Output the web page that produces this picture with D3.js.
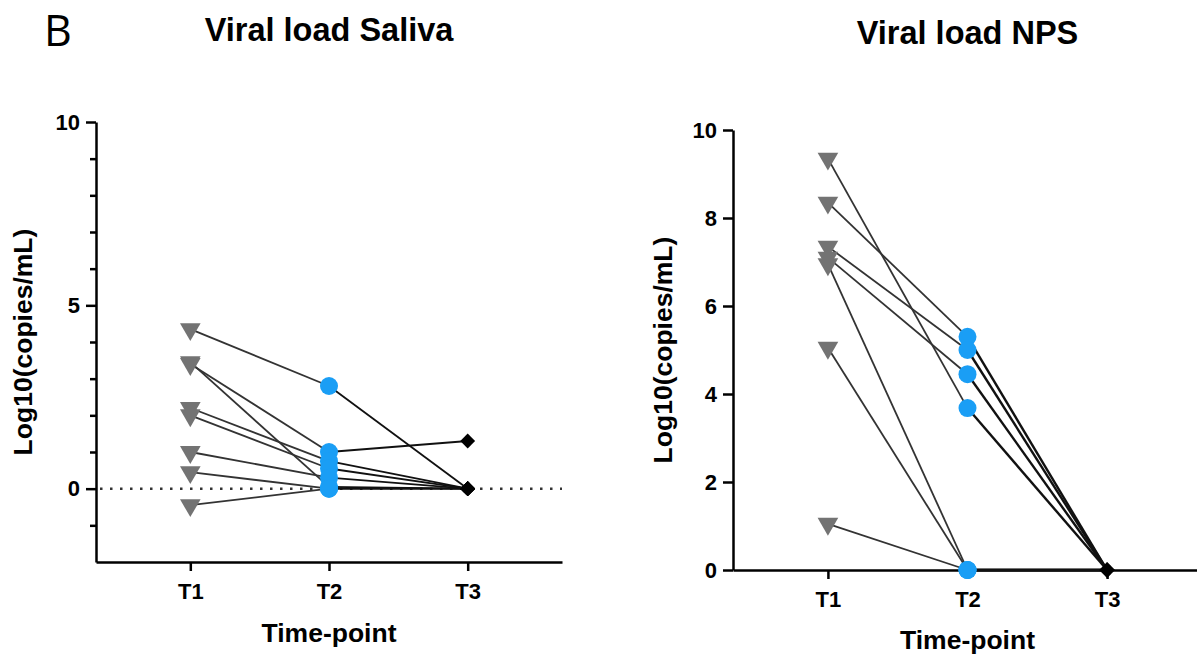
<!DOCTYPE html>
<meta charset="utf-8">
<style>
    body { margin: 0; background: #fff; }
    text { font-family: "Liberation Sans", Arial, sans-serif; fill: #000; }
    .axis path, .axis line { stroke: #000; stroke-width: 2.5; }
    .axis text { font-weight: bold; font-size: 22px; }
    .title { font-weight: bold; font-size: 32.5px; text-anchor: middle; }
    .label { font-weight: bold; font-size: 26.5px; text-anchor: middle; }
</style>
<body>
<div id="main"></div>
<script src="https://cdn.jsdelivr.net/npm/d3@7"></script>
<script>
    var timepoints = ["T1", "T2", "T3"];

    // saliva, one entry per patient
    var salivaT1 = [4.35, 3.45, 3.4, 2.2, 2.0, 1.0, 0.45, -0.45];
    var salivaT2 = [2.8, 0.05, 1.0, 0.75, 0.55, 0.3, 0, 0];
    var salivaT3 = [0, 0, 1.3, 0, 0, 0, 0, 0];
    var salivaMajor = [0, 5, 10];
    var salivaMinor = [-1, 1, 2, 3, 4, 6, 7, 8, 9];

    // nasopharyngeal swab
    var npsT1 = [9.35, 8.35, 7.35, 7.1, 6.95, 5.05, 1.05];
    var npsT2 = [3.68, 5.3, 5.0, 4.45, 0, 0, 0];
    var npsT3 = [0, 0, 0, 0, 0, 0, 0];
    var npsMajor = [0, 2, 4, 6, 8, 10];

    var svg = d3.select("#main").append("svg")
            .attr("width", 1197)
            .attr("height", 657);

    svg.append("text")
            .attr("x", 44).attr("y", 46)
            .style("font-family", "'Open Sans', sans-serif")
            .style("font-weight", 400)
            .style("font-size", "43px")
            .text("B");

    function makePanel(opt) {
        var x = d3.scalePoint()
                .domain(timepoints)
                .range([opt.left, opt.right])
                .padding(0.68);

        var y = d3.scaleLinear()
                .domain(opt.domain)
                .range([opt.bottom, opt.top]);

        var g = svg.append("g");

        g.append("text")
                .attr("class", "title")
                .attr("x", x("T2")).attr("y", opt.titleY)
                .text(opt.title);

        if (opt.dotted) {
            g.append("line")
                    .attr("x1", opt.left + 4).attr("x2", opt.right)
                    .attr("y1", y(0)).attr("y2", y(0))
                    .attr("stroke", "#333")
                    .attr("stroke-width", 2.5)
                    .attr("stroke-dasharray", "2.5,7.5");
        }

        // minor ticks
        if (opt.minor) {
            g.append("g")
                    .attr("class", "axis")
                    .attr("transform", "translate(" + opt.left + ",0)")
                    .call(d3.axisLeft(y).tickValues(opt.minor).tickSize(6).tickSizeOuter(0).tickFormat(""))
                    .select(".domain").remove();
        }

        g.append("g")
                .attr("class", "axis")
                .attr("transform", "translate(" + opt.left + ",0)")
                .call(d3.axisLeft(y).tickValues(opt.major).tickSize(10).tickPadding(6).tickSizeOuter(0));

        g.append("g")
                .attr("class", "axis")
                .attr("transform", "translate(0," + opt.bottom + ")")
                .call(d3.axisBottom(x).tickSize(9).tickPadding(12).tickSizeOuter(0));

        g.append("text")
                .attr("class", "label")
                .attr("transform", "translate(" + opt.yLabelX + "," + (opt.top + opt.bottom) / 2 + ") rotate(-90)")
                .text("Log10(copies/mL)");

        g.append("text")
                .attr("class", "label")
                .attr("x", x("T2")).attr("y", opt.xLabelY)
                .text("Time-point");

        var pts = opt.t1.map(function(v, i) {
            return [v, opt.t2[i], opt.t3[i]];
        });

        g.selectAll("line.a").data(pts).enter().append("line")
                .attr("x1", x("T1")).attr("y1", function(d) { return y(d[0]); })
                .attr("x2", x("T2")).attr("y2", function(d) { return y(d[1]); })
                .attr("stroke", "#333")
                .attr("stroke-width", 1.8);

        g.selectAll("line.b").data(pts).enter().append("line")
                .attr("x1", x("T2")).attr("y1", function(d) { return y(d[1]); })
                .attr("x2", x("T3")).attr("y2", function(d) { return y(d[2]); })
                .attr("stroke", "#111")
                .attr("stroke-width", opt.lineB);

        var tri = d3.symbol().type(d3.symbolTriangle).size(185);
        g.selectAll("path.t1").data(opt.t1).enter().append("path")
                .attr("d", tri)
                .attr("transform", function(d) { return "translate(" + x("T1") + "," + y(d) + ") rotate(180)"; })
                .attr("fill", "#737373");

        g.selectAll("circle.t2").data(opt.t2).enter().append("circle")
                .attr("cx", x("T2"))
                .attr("cy", function(d) { return y(d); })
                .attr("r", 9)
                .attr("fill", "#1a9ef5");

        var dia = d3.symbol().type(d3.symbolSquare).size(110);
        g.selectAll("path.t3").data(opt.t3).enter().append("path")
                .attr("d", dia)
                .attr("transform", function(d) { return "translate(" + x("T3") + "," + y(d) + ") rotate(45)"; })
                .attr("fill", "#000");
    }

    makePanel({
        title: "Viral load Saliva", titleY: 41,
        left: 96, right: 562, top: 122, bottom: 562,
        domain: [-2, 10], major: salivaMajor, minor: salivaMinor,
        dotted: true, yLabelX: 32, xLabelY: 642, lineB: 1.8,
        t1: salivaT1, t2: salivaT2, t3: salivaT3
    });

    makePanel({
        title: "Viral load NPS", titleY: 44,
        left: 733, right: 1202, top: 130, bottom: 570,
        domain: [0, 10], major: npsMajor, minor: null,
        dotted: false, yLabelX: 672, xLabelY: 649, lineB: 2.4,
        t1: npsT1, t2: npsT2, t3: npsT3
    });
</script>
</body>
